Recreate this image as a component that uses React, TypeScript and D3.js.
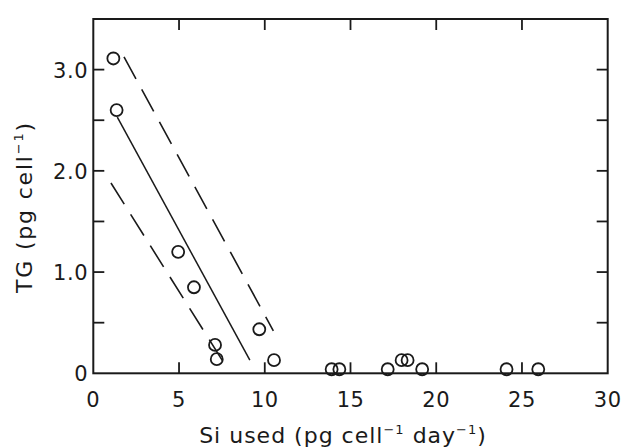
import React from "react";
import * as d3 from "d3";

const siUsed = [1.17, 1.36, 4.95, 5.87, 7.1, 7.2, 9.68, 10.54, 13.9, 14.35, 17.17, 17.98, 18.33, 19.18, 24.1, 25.95];
const tgValues = [3.11, 2.6, 1.2, 0.85, 0.28, 0.14, 0.435, 0.13, 0.04, 0.04, 0.04, 0.13, 0.13, 0.04, 0.04, 0.04];

const fitX = [1.4, 9.13];
const fitY = [2.53, 0.13];
const upperX = [1.79, 10.5];
const upperY = [3.125, 0.42];
const lowerX = [1.03, 7.81];
const lowerY = [1.88, 0.05];

const xTicks = [0, 5, 10, 15, 20, 25, 30];
const yTicks = [0, 1.0, 2.0, 3.0];
const yMinorTicks = [0.5, 1.0, 1.5, 2.0, 2.5, 3.0];
const yTickLabels = ["0", "1.0", "2.0", "3.0"];

const W = 622;
const H = 448;
const L = 93.3;
const R = 607.7;
const T = 19;
const B = 373.3;
const FONT = "'DejaVu Sans', sans-serif";
const INK = "#1a1a1a";

export default function App() {
  const x = d3.scaleLinear().domain([0, 30]).range([L, R]);
  const y = d3.scaleLinear().domain([0, 3.5]).range([B, T]);
  const line = d3
    .line<[number, number]>()
    .x((d) => x(d[0]))
    .y((d) => y(d[1]));
  const pts = (xs: number[], ys: number[]) => xs.map((v, i) => [v, ys[i]] as [number, number]);
  const tickLen = 11;

  return (
    <div style={{ position: "fixed", left: 0, top: 0, width: W, height: H, background: "#fff" }}>
      <svg width={W} height={H} style={{ display: "block" }}>
        <rect x={0} y={0} width={W} height={H} fill="#fff" />
        {/* frame */}
        <rect x={L} y={T} width={R - L} height={B - T} fill="none" stroke={INK} strokeWidth={2} />
        {/* x ticks bottom & top */}
        {xTicks.slice(1, -1).map((t) => (
          <g key={"xt" + t}>
            <line x1={x(t)} x2={x(t)} y1={B} y2={B - tickLen} stroke={INK} strokeWidth={1.8} />
            <line x1={x(t)} x2={x(t)} y1={T} y2={T + tickLen} stroke={INK} strokeWidth={1.8} />
          </g>
        ))}
        {/* y ticks left & right */}
        {yMinorTicks.map((t) => (
          <g key={"yt" + t}>
            <line x1={L} x2={L + tickLen} y1={y(t)} y2={y(t)} stroke={INK} strokeWidth={1.8} />
            <line x1={R} x2={R - tickLen} y1={y(t)} y2={y(t)} stroke={INK} strokeWidth={1.8} />
          </g>
        ))}
        {/* x tick labels */}
        {xTicks.map((t) => (
          <text key={"xl" + t} x={x(t)} y={407} textAnchor="middle" fontFamily={FONT} fontSize={21} fill={INK} letterSpacing={0.5}>
            {t}
          </text>
        ))}
        {/* y tick labels */}
        {yTicks.map((t, i) => (
          <text key={"yl" + t} x={88} y={y(t) + 8} textAnchor="end" fontFamily={FONT} fontSize={21} fill={INK} letterSpacing={0.5}>
            {yTickLabels[i]}
          </text>
        ))}
        {/* regression and confidence lines */}
        <path d={line(pts(fitX, fitY)) || ""} fill="none" stroke={INK} strokeWidth={1.5} />
        <path d={line(pts(upperX, upperY)) || ""} fill="none" stroke={INK} strokeWidth={1.6} strokeDasharray="25 12" />
        <path d={line(pts(lowerX, lowerY)) || ""} fill="none" stroke={INK} strokeWidth={1.6} strokeDasharray="25 12" />
        {/* points */}
        {siUsed.map((v, i) => (
          <circle key={"p" + i} cx={x(v)} cy={y(tgValues[i])} r={6} fill="none" stroke={INK} strokeWidth={1.8} />
        ))}
        {/* axis titles */}
        <text x={343} y={443} textAnchor="middle" fontFamily={FONT} fontSize={22} fill={INK} letterSpacing={1}>
          Si used (pg cell
          <tspan fontSize={13} dy={-9}>−1</tspan>
          <tspan dy={9}> day</tspan>
          <tspan fontSize={13} dy={-9}>−1</tspan>
          <tspan dy={9}>)</tspan>
        </text>
        <text
          transform={`translate(32, 207) rotate(-90)`}
          textAnchor="middle"
          fontFamily={FONT}
          fontSize={22}
          fill={INK}
          letterSpacing={1.8}
        >
          TG (pg cell
          <tspan fontSize={13} dy={-9}>−1</tspan>
          <tspan dy={9}>)</tspan>
        </text>
      </svg>
    </div>
  );
}
